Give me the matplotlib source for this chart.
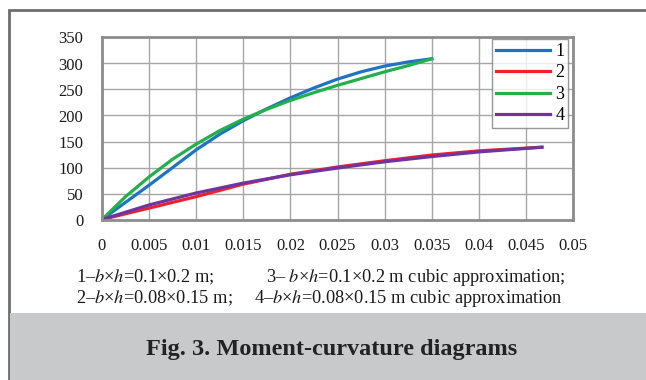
import matplotlib.pyplot as plt
from matplotlib.patches import Rectangle

plt.rcParams['font.family'] = ['Liberation Serif', 'DejaVu Serif']
plt.rcParams['mathtext.fontset'] = 'stix'

# curvature (x) and moment (y)
k13 = [0, 0.0025, 0.005, 0.0075, 0.01, 0.0125, 0.015, 0.0175, 0.02, 0.0225,
       0.025, 0.0275, 0.03, 0.0325, 0.035]
m1 = [0, 33, 66, 100, 134, 164, 190, 213, 234, 253, 270, 284, 295, 303, 309]
m3 = [0, 44, 82, 116, 145, 171, 193, 212, 229, 244, 258, 271, 284, 296, 309]

k24 = [0, 0.005, 0.01, 0.015, 0.02, 0.025, 0.03, 0.035, 0.04, 0.0467]
m2 = [0, 22, 44, 68, 87, 101, 113, 124, 132, 139]
m4 = [0, 28, 51, 70, 86, 99, 111, 121, 130, 139]

series = [("1", k13, m1, "#2072c4"), ("2", k24, m2, "#f0202a"),
          ("3", k13, m3, "#22b04a"), ("4", k24, m4, "#7034a0")]

xticks = [0, 0.005, 0.01, 0.015, 0.02, 0.025, 0.03, 0.035, 0.04, 0.045, 0.05]
xlabels = ["0", "0.005", "0.01", "0.015", "0.02", "0.025", "0.03", "0.035", "0.04", "0.045", "0.05"]
yticks = [0, 50, 100, 150, 200, 250, 300, 350]

W, H = 646, 380
fig = plt.figure(figsize=(W / 100, H / 100), dpi=100)

# outer frame and grey caption band
fig.patches.append(Rectangle((8.5 / W, 0), 1, (H - 9.5) / H, transform=fig.transFigure,
                             fill=False, edgecolor="#6e6e6e", linewidth=2))
fig.patches.append(Rectangle((9.5 / W, 0), 1, (H - 313) / H, transform=fig.transFigure,
                             facecolor="#c8c9cb", edgecolor="none"))

ax = fig.add_axes([102 / W, 1 - 219.5 / H, 471 / W, 182 / H])
for name, k, m, c in series:
    ax.plot(k, m, color=c, linewidth=2.3, label=name)

ax.set_xlim(0, 0.05)
ax.set_ylim(0, 350)
ax.set_xticks(xticks)
ax.set_xticklabels(xlabels)
ax.set_yticks(yticks)
ax.grid(True, color="#a6a6a6", linewidth=1)
ax.set_axisbelow(True)
ax.tick_params(length=0, labelsize=12, colors="#1a1a1a")
ax.tick_params(axis="x", pad=13)
ax.tick_params(axis="y", pad=13.5)
for s in ax.spines.values():
    s.set_color("#8c8c8c")
    s.set_linewidth(2)

leg = ax.legend(loc="upper right", bbox_to_anchor=(0.99, 0.99), fontsize=13,
                frameon=True, fancybox=False, handlelength=3.0, handletextpad=0.3,
                borderpad=0.2, labelspacing=0.25, borderaxespad=0)
leg.get_frame().set_edgecolor("#7f7f7f")
leg.get_frame().set_linewidth(1)

cap = dict(fontsize=13.2, color="#1a1a1a", va="center", ha="left")
fig.text(76 / W, 1 - 277 / H, r"1–$b$×$h$=0.1×0.2 m;", **cap)
fig.text(266 / W, 1 - 277 / H, r"3– $b$×$h$=0.1×0.2 m cubic approximation;", **cap)
fig.text(76 / W, 1 - 298.5 / H, r"2–$b$×$h$=0.08×0.15 m;", **cap)
fig.text(254 / W, 1 - 298.5 / H, r"4–$b$×$h$=0.08×0.15 m cubic approximation", **cap)

fig.text(332 / W, 1 - 349 / H, "Fig. 3. Moment-curvature diagrams", fontsize=17.5,
         fontweight="bold", ha="center", va="center", color="#222222")

fig.savefig("out.png", dpi=100)
